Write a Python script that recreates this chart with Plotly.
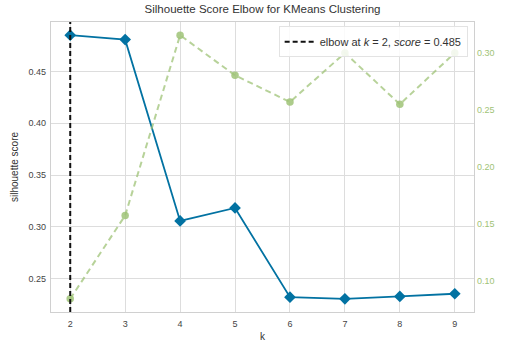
import plotly.graph_objects as go

# number of clusters tried
k_values = [2, 3, 4, 5, 6, 7, 8, 9]
# mean silhouette score per k
silhouette = [0.485, 0.4807, 0.3058, 0.3183, 0.2322, 0.2306, 0.2329, 0.2355]
# fit time per k (seconds)
fit_time = [0.0839, 0.157, 0.3152, 0.280, 0.2566, 0.2997, 0.2546, 0.2997]
elbow_k = 2
elbow_score = 0.485

x_ticks = [2, 3, 4, 5, 6, 7, 8, 9]
y_ticks = [0.25, 0.30, 0.35, 0.40, 0.45]
y2_ticks = [0.10, 0.15, 0.20, 0.25, 0.30]

BLUE = "#0272a2"
GREEN = "#9fc377"
FONT = "Liberation Sans, Arial, sans-serif"

fig = go.Figure()

fig.add_trace(go.Scatter(
    x=k_values, y=fit_time, yaxis="y2", mode="lines+markers",
    line=dict(color="rgba(159,195,119,0.75)", width=2, dash="6px,4px"),
    marker=dict(color="rgba(159,195,119,0.85)", size=7.5, symbol="circle"),
    showlegend=False,
))

fig.add_trace(go.Scatter(
    x=k_values, y=silhouette, mode="lines+markers",
    line=dict(color=BLUE, width=1.8),
    marker=dict(color=BLUE, size=9, symbol="diamond"),
    showlegend=False,
))

# legend entry for the elbow marker line
fig.add_trace(go.Scatter(
    x=[None], y=[None], mode="lines",
    line=dict(color="#111111", width=2, dash="5px,3px"),
    name=f"elbow at <i>k</i> = {elbow_k}, <i>score</i> = {elbow_score:.3f}",
))

fig.add_shape(
    type="line", xref="x", yref="paper", x0=elbow_k, x1=elbow_k, y0=0, y1=1,
    line=dict(color="#111111", width=2, dash="5px,3px"), layer="above",
)

fig.update_layout(
    width=505, height=342,
    margin=dict(l=51, r=31, t=22, b=30, autoexpand=False),
    paper_bgcolor="white", plot_bgcolor="white",
    font=dict(family=FONT, size=9, color="#444444"),
    title=dict(text="Silhouette Score Elbow for KMeans Clustering",
               x=0.5, xref="paper", xanchor="center", y=0.975, yanchor="middle",
               font=dict(size=11.5, color="#333333")),
    xaxis=dict(
        range=[1.65, 9.35], tickvals=x_ticks, ticktext=[str(t) for t in x_ticks],
        showgrid=True, gridcolor="#dddddd", gridwidth=1,
        showline=True, linecolor="#d0d0d0", linewidth=1.2, mirror=True,
        ticks="", zeroline=False, ticklabelstandoff=3, automargin=False,
        title=dict(text="k", font=dict(size=10, color="#333333"), standoff=8),
    ),
    yaxis=dict(
        range=[0.2179, 0.4977], tickvals=y_ticks,
        ticktext=[f"{v:.2f}" for v in y_ticks],
        showgrid=True, gridcolor="#dddddd", gridwidth=1,
        showline=True, linecolor="#d0d0d0", linewidth=1.2, mirror=True,
        ticks="", zeroline=False, ticklabelstandoff=2, automargin=False,
        title=dict(text="silhouette score", font=dict(size=10, color="#333333"), standoff=8),
    ),
    yaxis2=dict(
        overlaying="y", side="right",
        range=[0.0723, 0.3268], tickvals=y2_ticks,
        ticktext=[f"{v:.2f}" for v in y2_ticks],
        showgrid=False, zeroline=False, ticks="", ticklabelstandoff=2,
        automargin=False,
        tickfont=dict(color=GREEN, size=9),
    ),
    legend=dict(
        x=0.985, y=0.985, xanchor="right", yanchor="top",
        bgcolor="rgba(255,255,255,0.85)", bordercolor="#e3e3e3", borderwidth=1,
        font=dict(size=11, color="#333333"),
    ),
)

# right-hand axis title, running off the edge of the page
fig.add_annotation(
    text="fit time (seconds)", xref="paper", yref="paper",
    x=1.0, y=0.5, xshift=36, xanchor="center", yanchor="middle",
    textangle=-90, showarrow=False, font=dict(size=10, color=GREEN),
)

fig.write_html("out.html")
